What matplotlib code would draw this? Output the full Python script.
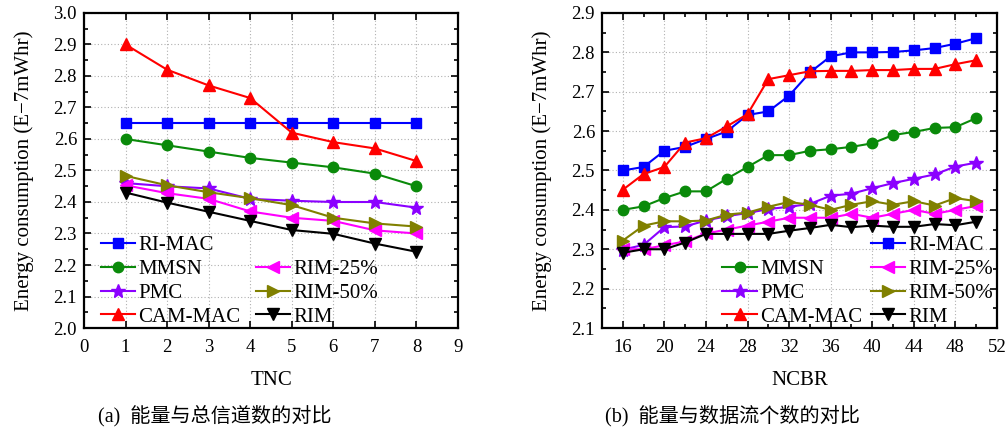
import matplotlib
matplotlib.use("Agg")
import matplotlib.pyplot as plt
from matplotlib.ticker import MultipleLocator, FormatStrFormatter

plt.rcParams['font.family'] = ['Liberation Serif', 'Noto Sans CJK SC']

# ---- data: left panel (TNC) ----
tnc = [1, 2, 3, 4, 5, 6, 7, 8]
a_rimac = [2.65, 2.65, 2.65, 2.65, 2.65, 2.65, 2.65, 2.65]
a_mmsn = [2.60, 2.58, 2.56, 2.54, 2.525, 2.51, 2.49, 2.45]
a_pmc = [2.46, 2.45, 2.443, 2.41, 2.404, 2.40, 2.40, 2.382]
a_cam = [2.90, 2.82, 2.77, 2.73, 2.62, 2.59, 2.57, 2.53]
a_rim25 = [2.453, 2.428, 2.41, 2.37, 2.35, 2.34, 2.31, 2.30]
a_rim50 = [2.483, 2.453, 2.431, 2.412, 2.39, 2.35, 2.332, 2.322]
a_rim = [2.43, 2.398, 2.369, 2.34, 2.311, 2.299, 2.268, 2.242]

# ---- data: right panel (NCBR) ----
ncbr = [16, 18, 20, 22, 24, 26, 28, 30, 32, 34, 36, 38, 40, 42, 44, 46, 48, 50]
b_rimac = [2.50, 2.509, 2.55, 2.56, 2.58, 2.599, 2.641, 2.65, 2.69, 2.749,
           2.79, 2.80, 2.80, 2.801, 2.805, 2.811, 2.822, 2.836]
b_mmsn = [2.40, 2.409, 2.43, 2.447, 2.447, 2.479, 2.509, 2.539, 2.539, 2.55,
          2.554, 2.56, 2.569, 2.59, 2.598, 2.608, 2.61, 2.633]
b_pmc = [2.299, 2.311, 2.356, 2.358, 2.373, 2.384, 2.392, 2.402, 2.408, 2.415,
         2.436, 2.441, 2.455, 2.468, 2.479, 2.49, 2.51, 2.52]
b_cam = [2.451, 2.491, 2.509, 2.571, 2.582, 2.612, 2.643, 2.732, 2.742, 2.752,
         2.753, 2.753, 2.755, 2.755, 2.758, 2.758, 2.77, 2.78]
b_rim25 = [2.30, 2.30, 2.31, 2.32, 2.34, 2.35, 2.36, 2.37, 2.38, 2.38,
           2.38, 2.39, 2.38, 2.39, 2.40, 2.39, 2.40, 2.41]
b_rim50 = [2.322, 2.36, 2.371, 2.371, 2.373, 2.388, 2.393, 2.408, 2.42, 2.413,
           2.40, 2.413, 2.422, 2.413, 2.422, 2.411, 2.43, 2.422]
b_rim = [2.291, 2.30, 2.30, 2.317, 2.339, 2.339, 2.339, 2.339, 2.347, 2.354,
         2.362, 2.356, 2.36, 2.357, 2.357, 2.364, 2.361, 2.37]

names = ['RI-MAC', 'MMSN', 'PMC', 'CAM-MAC', 'RIM-25%', 'RIM-50%', 'RIM']
colors = ['#0000ff', '#0a8a0a', '#8b00ff', '#ff0000', '#ff00ff', '#808000', '#000000']
markers = ['s', 'o', '*', '^', '<', '>', 'v']
msizes = [7, 7.5, 10, 8.5, 8.5, 8.5, 8.5]

fig = plt.figure(figsize=(10.08, 4.30), dpi=100)
ax1 = fig.add_axes([0.0833, 0.2372, 0.3711, 0.7326])
ax2 = fig.add_axes([0.5972, 0.2372, 0.3919, 0.7326])


def style(ax):
    for s in ax.spines.values():
        s.set_linewidth(1.6)
    ax.tick_params(which='both', direction='in', top=True, right=True,
                   labelsize=13.5, width=1.2)
    ax.tick_params(axis='x', which='major', pad=8)
    ax.tick_params(axis='y', which='major', pad=5)
    ax.tick_params(which='major', length=5)
    ax.tick_params(which='minor', length=3)
    ax.grid(True, which='major', linestyle=(0, (1, 2)), color='#b0b0b0', linewidth=0.8)
    ax.set_axisbelow(True)
    ax.set_ylabel('Energy consumption (E\u22127mWhr)', fontsize=15, labelpad=14)


leg_kw = dict(frameon=False, fontsize=15, handlelength=1.65, handletextpad=0.15,
              labelspacing=0.2, borderpad=0.0, borderaxespad=0.0)

series_a = [a_rimac, a_mmsn, a_pmc, a_cam, a_rim25, a_rim50, a_rim]
handles_a = []
for ys, n, c, m, ms in zip(series_a, names, colors, markers, msizes):
    h, = ax1.plot(tnc, ys, color=c, marker=m, markersize=ms, linewidth=1.5, label=n)
    handles_a.append(h)
ax1.set_xlim(0, 9)
ax1.set_ylim(2.0, 3.0)
ax1.xaxis.set_major_locator(MultipleLocator(1))
ax1.yaxis.set_major_locator(MultipleLocator(0.1))
ax1.yaxis.set_minor_locator(MultipleLocator(0.05))
ax1.yaxis.set_major_formatter(FormatStrFormatter('%.1f'))
style(ax1)
ax1.set_xlabel('TNC', fontsize=15, labelpad=11)

l1 = ax1.legend(handles_a[:4], names[:4], loc='lower left',
                bbox_to_anchor=(0.045, 0.004), **leg_kw)
ax1.add_artist(l1)
ax1.legend(handles_a[4:], names[4:], loc='lower left',
           bbox_to_anchor=(0.46, 0.004), **leg_kw)

series_b = [b_rimac, b_mmsn, b_pmc, b_cam, b_rim25, b_rim50, b_rim]
handles_b = []
for ys, n, c, m, ms in zip(series_b, names, colors, markers, msizes):
    h, = ax2.plot(ncbr, ys, color=c, marker=m, markersize=ms, linewidth=1.5, label=n)
    handles_b.append(h)
ax2.set_xlim(14, 52)
ax2.set_ylim(2.1, 2.9)
ax2.set_xticks(range(16, 53, 4))
ax2.xaxis.set_minor_locator(MultipleLocator(2))
ax2.yaxis.set_major_locator(MultipleLocator(0.1))
ax2.yaxis.set_minor_locator(MultipleLocator(0.05))
ax2.yaxis.set_major_formatter(FormatStrFormatter('%.1f'))
style(ax2)
ax2.set_xlabel('NCBR', fontsize=15, labelpad=11)

l2 = ax2.legend([handles_b[1], handles_b[2], handles_b[3]],
                [names[1], names[2], names[3]], loc='lower left',
                bbox_to_anchor=(0.305, 0.004), **leg_kw)
ax2.add_artist(l2)
ax2.legend([handles_b[0], handles_b[4], handles_b[5], handles_b[6]],
           [names[0], names[4], names[5], names[6]], loc='lower left',
           bbox_to_anchor=(0.68, 0.004), **leg_kw)

fig.text(0.213, 0.033, '(a)  能量与总信道数的对比', ha='center', va='center', fontsize=14.5)
fig.text(0.727, 0.033, '(b)  能量与数据流个数的对比', ha='center', va='center', fontsize=14.5)

fig.savefig('out.png', dpi=100)
